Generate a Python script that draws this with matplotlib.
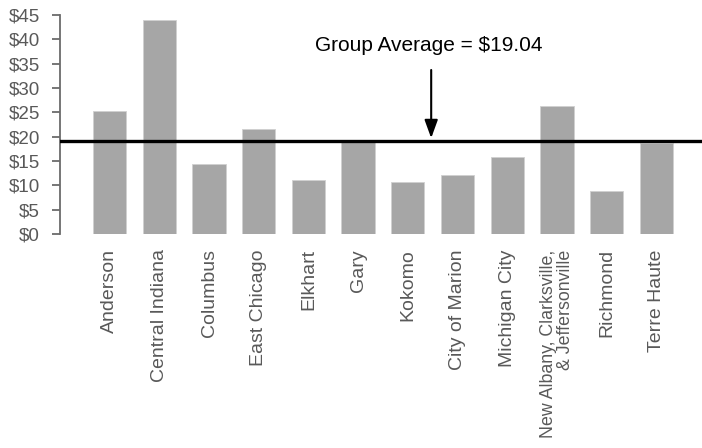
import matplotlib
matplotlib.use("Agg")
import matplotlib.pyplot as plt

plt.rcParams['font.family'] = ['Liberation Sans', 'DejaVu Sans']

# data
cities = ["Anderson", "Central Indiana", "Columbus", "East Chicago", "Elkhart", "Gary",
          "Kokomo", "City of Marion", "Michigan City",
          "New Albany, Clarksville,\n& Jeffersonville", "Richmond", "Terre Haute"]
values = [25.3, 43.9, 14.4, 21.5, 11.1, 19.4, 10.6, 12.1, 15.8, 26.4, 8.9, 18.8]
group_avg = 19.04
yticks = list(range(0, 50, 5))

fig = plt.figure(figsize=(7.02, 4.48), dpi=100)
ax = fig.add_axes([60 / 702, 1 - 234 / 448, 1 - 60 / 702, 219 / 448])

x = range(len(cities))
ax.bar(x, values, width=0.67, color="#a6a6a6", edgecolor="#d0d0d0", linewidth=0.6, zorder=2)

# group average line
ax.axhline(group_avg, color="black", linewidth=2.4, zorder=3)
ax.text(6.43, 38.8, "Group Average = $19.04", ha="center", va="center",
        fontsize=15, color="black")
ax.annotate("", xy=(6.47, 19.7), xytext=(6.47, 33.7),
            arrowprops=dict(arrowstyle="-|>,head_length=1.1,head_width=0.4",
                            color="black", lw=1.5, shrinkA=0, shrinkB=0))

ax.set_xlim(-1.0, 11.92)
ax.set_ylim(0, 45)
ax.set_yticks(yticks)
ax.set_yticklabels([f"${v}" for v in yticks])
ax.set_xticks(list(x))
labels = ax.set_xticklabels(cities, rotation=90, va="top", ha="center",
                            linespacing=0.95, multialignment="right")
labels[9].set_fontsize(12.8)

for s in ["top", "right", "bottom"]:
    ax.spines[s].set_visible(False)
ax.spines["left"].set_color("#6b6b6b")
ax.spines["left"].set_linewidth(1.3)
ax.tick_params(axis="y", colors="#6b6b6b", labelcolor="#595959", length=5.5, width=1.3,
               labelsize=13.5, pad=9)
ax.tick_params(axis="x", length=0, labelcolor="#595959", labelsize=14, pad=11)
labels[9].set_fontsize(12.8)

fig.savefig("out.png", dpi=100)
